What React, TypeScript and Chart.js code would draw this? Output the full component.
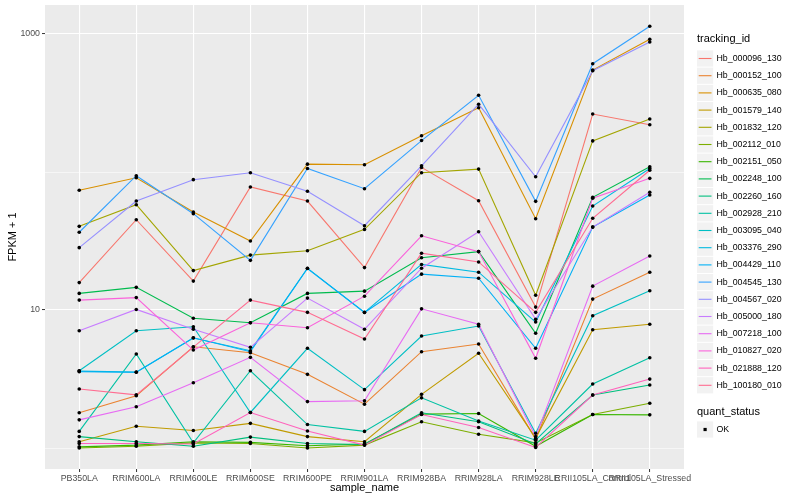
import React, { useEffect, useRef } from "react";
import { Chart, registerables } from "chart.js";

Chart.register(...registerables);

const FONT = '"Liberation Sans", Arial, Helvetica, sans-serif';

const categories = [
  "PB350LA", "RRIM600LA", "RRIM600LE", "RRIM600SE", "RRIM600PE", "RRIM901LA",
  "RRIM928BA", "RRIM928LA", "RRIM928LE", "RRII105LA_Control", "RRII105LA_Stressed",
];

const trackingIds = [
  "Hb_000096_130", "Hb_000152_100", "Hb_000635_080", "Hb_001579_140", "Hb_001832_120",
  "Hb_002112_010", "Hb_002151_050", "Hb_002248_100", "Hb_002260_160", "Hb_002928_210",
  "Hb_003095_040", "Hb_003376_290", "Hb_004429_110", "Hb_004545_130", "Hb_004567_020",
  "Hb_005000_180", "Hb_007218_100", "Hb_010827_020", "Hb_021888_120", "Hb_100180_010",
];

const seriesColors = [
  "#F8766D", "#EA8331", "#D89000", "#C09B00", "#A3A500", "#7CAE00", "#39B600", "#00BB4E",
  "#00BF7D", "#00C1A3", "#00BFC4", "#00BAE0", "#00B0F6", "#35A2FF", "#9590FF", "#C77CFF",
  "#E76BF3", "#FA62DB", "#FF62BC", "#FF6C91",
];

const hb000096_130 = [15.8, 45.1, 16.2, 77.9, 61.6, 20.3, 108, 61.9, 10.5, 263, 220];
const hb000152_100 = [1.8, 2.39, 5.42, 4.9, 3.42, 2.08, 4.99, 5.67, 1.16, 12.0, 18.8];
const hb000635_080 = [73.7, 90.9, 51.3, 31.6, 114, 113, 183, 292, 45.9, 548, 915];
const hb001579_140 = [1.11, 1.44, 1.34, 1.51, 1.21, 1.11, 2.45, 4.86, 1.18, 7.2, 7.88];
const hb001832_120 = [40.4, 57.9, 19.3, 25.0, 26.9, 38.4, 98.8, 105, 12.8, 168, 242];
const hb002112_010 = [1.0, 1.03, 1.09, 1.08, 1.0, 1.05, 1.55, 1.26, 1.09, 1.75, 2.11];
const hb002151_050 = [1.02, 1.05, 1.11, 1.1, 1.04, 1.07, 1.76, 1.78, 1.03, 1.75, 1.74];
const hb002248_100 = [13.2, 14.6, 8.71, 8.09, 13.2, 13.7, 23.9, 26.5, 6.78, 65.6, 109];
const hb002260_160 = [1.21, 1.11, 1.03, 1.2, 1.08, 1.06, 1.8, 1.55, 1.07, 2.42, 2.86];
const hb002928_210 = [1.32, 4.8, 1.09, 3.63, 1.48, 1.32, 2.31, 1.57, 1.14, 2.91, 4.51];
const hb003095_040 = [3.63, 7.08, 7.57, 1.81, 5.28, 2.65, 6.48, 7.66, 1.28, 9.09, 13.8];
const hb003376_290 = [3.61, 3.55, 6.27, 5.07, 20.1, 9.62, 21.4, 18.8, 8.18, 56.7, 106];
const hb004429_110 = [3.57, 3.54, 6.3, 4.99, 20.0, 9.6, 18.2, 17.0, 5.28, 39.9, 68.1];
const hb004545_130 = [36.6, 94.0, 49.9, 22.9, 106, 75.7, 169, 360, 61.3, 609, 1137];
const hb004567_020 = [28.3, 61.6, 88.0, 98.8, 72.5, 40.8, 111, 310, 92.4, 542, 875];
const hb005000_180 = [7.08, 10.1, 7.25, 5.37, 12.2, 7.25, 20.1, 36.9, 8.56, 39.9, 71.3];
const hb007218_100 = [1.6, 1.99, 2.97, 4.54, 2.17, 2.2, 10.2, 7.88, 1.21, 14.9, 24.6];
const hb010827_020 = [11.8, 12.3, 5.13, 8.09, 7.44, 12.6, 34.5, 26.5, 4.47, 64.5, 90.0];
const hb021888_120 = [1.08, 1.08, 1.07, 1.81, 1.33, 1.05, 1.75, 1.41, 1.01, 2.42, 3.16];
const hb100180_010 = [2.68, 2.43, 5.39, 11.8, 9.62, 6.16, 25.8, 22.3, 9.62, 46.2, 103];

const seriesValues = [
  hb000096_130, hb000152_100, hb000635_080, hb001579_140, hb001832_120,
  hb002112_010, hb002151_050, hb002248_100, hb002260_160, hb002928_210,
  hb003095_040, hb003376_290, hb004429_110, hb004545_130, hb004567_020,
  hb005000_180, hb007218_100, hb010827_020, hb021888_120, hb100180_010,
];

const yGridValues = [1, 10, 100, 1000];
const yLabelledValues = [10, 1000];
const yMin = 0.705;
const yMax = 1622;
const xMin = -0.6;
const xMax = categories.length - 1 + 0.6;

const legendTitle = "tracking_id";
const shapeLegendTitle = "quant_status";
const shapeLegendLabels = ["OK"];

const panelPlugin = {
  id: "ggPanel",
  beforeDraw(chart: any) {
    const { ctx, chartArea } = chart;
    ctx.save();
    ctx.fillStyle = "#FFFFFF";
    ctx.fillRect(0, 0, chart.width, chart.height);
    ctx.fillStyle = "#EBEBEB";
    ctx.fillRect(chartArea.left, chartArea.top, chartArea.right - chartArea.left, chartArea.bottom - chartArea.top);
    ctx.restore();
  },
  afterDraw(chart: any) {
    const { ctx } = chart;
    ctx.save();
    const x0 = 697;
    ctx.textAlign = "left";
    ctx.textBaseline = "middle";
    ctx.fillStyle = "#000000";
    ctx.font = `11px ${FONT}`;
    ctx.fillText(legendTitle, x0, 39);
    const step = 17.2;
    const first = 58.5;
    trackingIds.forEach((id, i) => {
      const cy = first + i * step;
      ctx.fillStyle = "#F2F2F2";
      ctx.fillRect(x0, cy - step / 2 + 0.5, step - 1, step - 1);
      ctx.strokeStyle = seriesColors[i];
      ctx.lineWidth = 1.1;
      ctx.beginPath();
      ctx.moveTo(x0 + 1.7, cy);
      ctx.lineTo(x0 + step - 2.7, cy);
      ctx.stroke();
      ctx.fillStyle = "#000000";
      ctx.font = `8.8px ${FONT}`;
      ctx.fillText(id, 716.5, cy);
    });
    ctx.font = `11px ${FONT}`;
    ctx.fillStyle = "#000000";
    ctx.fillText(shapeLegendTitle, x0, 412);
    shapeLegendLabels.forEach((lab, i) => {
      const cy = 429.5 + i * step;
      ctx.fillStyle = "#F2F2F2";
      ctx.fillRect(x0, cy - step / 2 + 0.5, step - 1, step - 1);
      ctx.fillStyle = "#000000";
      ctx.fillRect(x0 + (step - 1) / 2 - 1.6, cy - 1.6, 3.2, 3.2);
      ctx.font = `8.8px ${FONT}`;
      ctx.fillText(lab, 716.5, cy);
    });
    ctx.restore();
  },
};

export default function App() {
  const canvasRef = useRef<HTMLCanvasElement | null>(null);

  useEffect(() => {
    if (!canvasRef.current) return;
    const lineSets = seriesValues.map((vals, i) => ({
      type: "line" as const,
      label: trackingIds[i],
      data: vals.map((v, j) => ({ x: j, y: v })),
      borderColor: seriesColors[i],
      backgroundColor: seriesColors[i],
      borderWidth: 1.1,
      pointRadius: 0,
      tension: 0,
      fill: false,
      order: 100 - i,
    }));
    const pointSets = seriesValues.map((vals, i) => ({
      type: "line" as const,
      label: trackingIds[i] + " points",
      data: vals.map((v, j) => ({ x: j, y: v })),
      showLine: false,
      pointRadius: 1.8,
      pointBackgroundColor: "#000000",
      pointBorderWidth: 0,
      pointBorderColor: "#000000",
      order: 0,
    }));

    const chart = new Chart(canvasRef.current, {
      type: "line",
      data: { datasets: [...lineSets, ...pointSets] as any },
      plugins: [panelPlugin],
      options: {
        animation: false,
        responsive: false,
        maintainAspectRatio: false,
        layout: { padding: { left: 0, right: 116, top: 5, bottom: 0 } },
        plugins: { legend: { display: false }, tooltip: { enabled: false } },
        scales: {
          x: {
            type: "linear",
            min: xMin,
            max: xMax,
            afterBuildTicks: (scale: any) => {
              scale.ticks = categories.map((_, i) => ({ value: i }));
            },
            afterFit: (scale: any) => {
              scale.height = 31;
              scale.paddingLeft = 0;
              scale.paddingRight = 0;
            },
            border: { display: false },
            grid: {
              color: "#FFFFFF",
              lineWidth: 1.1,
              tickColor: "#333333",
              tickLength: 3,
              tickWidth: 1,
              drawTicks: true,
            },
            ticks: {
              autoSkip: false,
              maxRotation: 0,
              minRotation: 0,
              padding: 1,
              color: "#4D4D4D",
              font: { family: FONT, size: 8.8 },
              callback: (v: any) => categories[Math.round(Number(v))] ?? "",
            },
            title: {
              display: true,
              text: "sample_name",
              color: "#000000",
              font: { family: FONT, size: 11 },
              padding: { top: 0, bottom: 5.4 },
            },
          },
          y: {
            type: "logarithmic",
            min: yMin,
            max: yMax,
            bounds: "data",
            afterBuildTicks: (scale: any) => {
              scale.ticks = yGridValues.map((v) => ({ value: v }));
            },
            afterFit: (scale: any) => {
              scale.width = 45;
              scale.paddingTop = 0;
              scale.paddingBottom = 0;
            },
            border: { display: false },
            grid: {
              color: "#FFFFFF",
              lineWidth: (c: any) => (c.tick && yLabelledValues.includes(c.tick.value) ? 1.1 : 0.55),
              tickColor: (c: any) => (c.tick && yLabelledValues.includes(c.tick.value) ? "#333333" : "rgba(0,0,0,0)"),
              tickLength: 3,
              tickWidth: 1,
            },
            ticks: {
              padding: 2,
              color: "#4D4D4D",
              font: { family: FONT, size: 8.8 },
              callback: (v: any) => (yLabelledValues.includes(Number(v)) ? String(v) : ""),
            },
            title: {
              display: true,
              text: "FPKM + 1",
              color: "#000000",
              font: { family: FONT, size: 11 },
              padding: { top: 6.4, bottom: 0 },
            },
          },
        },
      } as any,
    });
    return () => chart.destroy();
  }, []);

  return (
    <div style={{ position: "absolute", left: 0, top: 0, width: 800, height: 500, background: "#FFFFFF" }}>
      <canvas ref={canvasRef} width={800} height={500} style={{ width: 800, height: 500, display: "block" }} />
    </div>
  );
}
